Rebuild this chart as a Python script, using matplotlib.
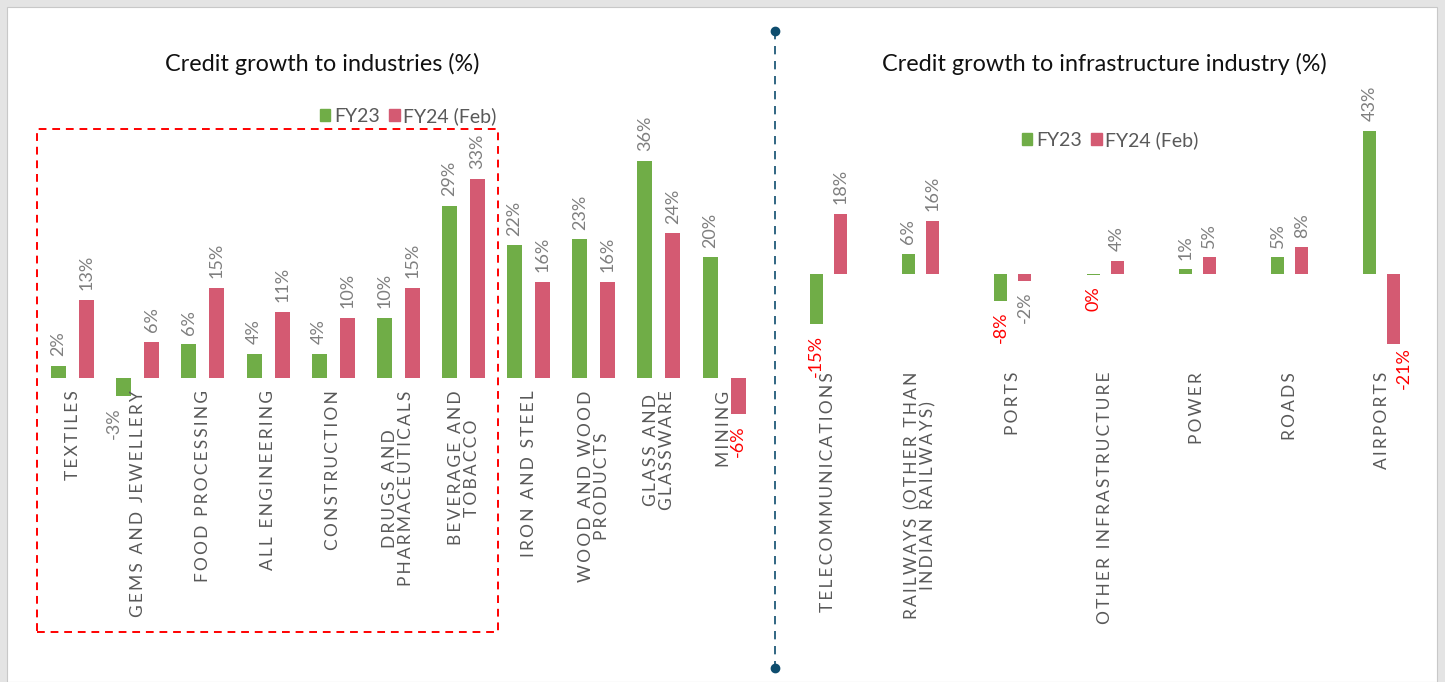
import numpy as np
import matplotlib
matplotlib.use('Agg')
import matplotlib.pyplot as plt
from matplotlib.patches import Rectangle
from matplotlib.lines import Line2D

plt.rcParams['font.family'] = ['Lato', 'DejaVu Sans']

# data -------------------------------------------------------------------------
ind_cats = ['TEXTILES', 'GEMS AND JEWELLERY', 'FOOD PROCESSING', 'ALL ENGINEERING',
            'CONSTRUCTION', 'DRUGS AND\nPHARMACEUTICALS', 'BEVERAGE AND\nTOBACCO',
            'IRON AND STEEL', 'WOOD AND WOOD\nPRODUCTS', 'GLASS AND\nGLASSWARE', 'MINING']
ind_fy23 = [2, -3, 5.6, 4, 4, 10, 28.6, 22, 23, 36, 20]
ind_fy24 = [13, 6, 15, 11, 10, 15, 33, 16, 16, 24, -6]

inf_cats = ['TELECOMMUNICATIONS', 'RAILWAYS (OTHER THAN\nINDIAN RAILWAYS)', 'PORTS',
            'OTHER INFRASTRUCTURE', 'POWER', 'ROADS', 'AIRPORTS']
inf_fy23 = [-15, 6, -8, -0.2, 1.4, 5, 43]
inf_fy24 = [18, 16, -2, 4, 5, 8, -21]

# labels shown in red in the source
red_ind = {('FY24', 10)}
red_inf = {('FY23', 0), ('FY23', 2), ('FY23', 3), ('FY24', 6)}
# labels the source pushed sideways (dx, dy in points)
nudge_ind = {('FY23', 1): (-7, 0)}
nudge_inf = {('FY24', 6): (7, 6)}

C23, C24 = '#70ad47', '#d45a72'
GRAY, RED = '#7f7f7f', '#ff0000'
TXT = '#595959'
W, H = 1445, 682


def spaced(s):
    # letter spacing like the source's category labels
    return '\n'.join('\u2009'.join(line) for line in s.split('\n'))


def fx(px): return px / W
def fy(py): return 1 - py / H


fig = plt.figure(figsize=(W / 100, H / 100), dpi=100, facecolor='#e4e4e4')
fig.patches.append(Rectangle((fx(7), 0), fx(1437 - 7), fy(7), transform=fig.transFigure,
                             facecolor='white', edgecolor='#c8c8c8', lw=0.8, zorder=-10))


def panel(ax, cats, v23, v24, bw, off, red, nudge, cat_low):
    x = np.arange(len(cats))
    ax.bar(x - off, v23, bw, color=C23, zorder=2)
    ax.bar(x + off, v24, bw, color=C24, zorder=2)
    for name, vals, sgn in (('FY23', v23, -1), ('FY24', v24, 1)):
        for i, v in enumerate(vals):
            col = RED if (name, i) in red else GRAY
            dx, dy = nudge.get((name, i), (0, 0))
            ax.annotate(f'{round(v)}%', (i + sgn * off, v),
                        xytext=(dx, (7 if v >= 0 else -8) + dy),
                        textcoords='offset points', rotation=90, ha='center',
                        va='bottom' if v >= 0 else 'top', fontsize=13, color=col,
                        annotation_clip=False)
    for i, c in enumerate(cats):
        if cat_low:
            ax.annotate(spaced(c), (i, 0), xycoords=ax.get_xaxis_transform(), xytext=(0, 0),
                        textcoords='offset points', rotation=90, ha='center', va='top',
                        multialignment='center', fontsize=12.5, color=TXT, linespacing=1.0,
                        annotation_clip=False)
        else:
            ax.annotate(spaced(c), (i, 0), xytext=(0, -9), textcoords='offset points',
                        rotation=90, ha='center', va='top', multialignment='center',
                        fontsize=12.5, color=TXT, linespacing=1.0, annotation_clip=False)
    ax.set_xlim(-0.5, len(cats) - 0.5)
    ax.axis('off')


# left: industries
ax1 = fig.add_axes([fx(40), fy(378 + 10 * 6.03), fx(716.7), 50 * 6.03 / H])
ax1.set_ylim(-10, 40)
panel(ax1, ind_cats, ind_fy23, ind_fy24, 0.23, 0.215, red_ind, nudge_ind, cat_low=False)

# right: infrastructure
ax2 = fig.add_axes([fx(782), fy(372), fx(646.1), (372 - 274 + 50 * 3.33) / H])
ax2.set_ylim(-(372 - 274) / 3.33, 50)
panel(ax2, inf_cats, inf_fy23, inf_fy24, 0.14, 0.13, red_inf, nudge_inf, cat_low=True)

# titles
fig.text(fx(322), fy(64), 'Credit growth to industries (%)', ha='center', va='center',
         fontsize=16.8, color='#111111')
fig.text(fx(1104), fy(64), 'Credit growth to infrastructure industry (%)', ha='center',
         va='center', fontsize=16.8, color='#111111')

# legends
h = [Rectangle((0, 0), 1, 1, color=C23), Rectangle((0, 0), 1, 1, color=C24)]
for lx, ly in ((fx(312), fy(116)), (fx(1014), fy(140))):
    fig.legend(h, ['FY23', 'FY24 (Feb)'], loc='center left', bbox_to_anchor=(lx, ly),
               ncol=2, frameon=False, fontsize=14, labelcolor=TXT, handlelength=0.55,
               handleheight=0.55, handletextpad=0.2, columnspacing=0.45, borderaxespad=0)

# highlight box around the first seven industries
fig.patches.append(Rectangle((fx(37), fy(632)), fx(498 - 37), (632 - 129) / H,
                             transform=fig.transFigure, fill=False, edgecolor=RED,
                             ls=(0, (4, 3)), lw=1.4, zorder=5))

# divider
fig.lines.append(Line2D([fx(775), fx(775)], [fy(31), fy(668)], transform=fig.transFigure,
                        color='#0e4d6e', ls=(0, (5, 4)), lw=1.2))
fig.lines.append(Line2D([fx(775), fx(775)], [fy(31), fy(668)], transform=fig.transFigure,
                        color='#0e4d6e', ls='none', marker='o', ms=6))

fig.savefig('out.png', dpi=100, facecolor=fig.get_facecolor())
